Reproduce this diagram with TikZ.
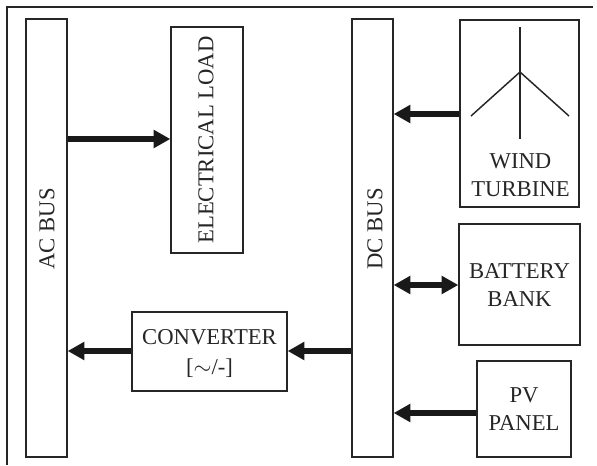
\documentclass[tikz,border=0pt]{standalone}
\usepackage{fontspec}
\setmainfont{Liberation Serif}
\usetikzlibrary{arrows.meta}
\tikzset{
 lab/.style={font=\fontsize{17pt}{21pt}\selectfont,text=black!85},
 box/.style={draw=black!85,line width=1pt,inner sep=0pt,align=center,lab},
 conn/.style={draw=black!90,line width=4.4pt,-{Triangle[length=12.5pt,width=13pt]}},
 bi/.style={draw=black!90,line width=4.4pt,{Triangle[length=12.5pt,width=13pt]}-{Triangle[length=12.5pt,width=13pt]}},
 tur/.style={draw=black!85,line width=1.1pt}
}
\begin{document}
\begin{tikzpicture}[x=0.75pt,y=-0.75pt]
\useasboundingbox (0,0) rectangle (597,465);
\fill[white] (0,0) rectangle (597,465);
\draw[draw=black!85,line width=1pt] (7,465) -- (7,7) -- (593,7);
\node[box,minimum width=30.75pt,minimum height=328.5pt] (ac) at (46.5,238) {};
\node[lab,rotate=90] (aclabel) at (47,229) {AC BUS};
\node[box,minimum width=30.75pt,minimum height=328.5pt] (dc) at (372.5,238) {};
\node[lab,rotate=90] (dclabel) at (375,229) {DC BUS};
\node[box,minimum width=54pt,minimum height=169.5pt] (load) at (207,140) {};
\node[lab,rotate=90] (loadlabel) at (206,140) {ELECTRICAL LOAD};
\node[box,minimum width=116.25pt,minimum height=59.25pt] (conv) at (209.5,351.5) {};
\node[lab,align=center] (convlabel) at (209.5,354) {CONVERTER\\[1.5pt]{[}$\sim$/-{]}};
\node[box,minimum width=89.25pt,minimum height=140.25pt] (wind) at (519.5,113.5) {};
\node[lab,align=center] (windlabel) at (520.5,175) {WIND\\TURBINE};
\node[box,minimum width=90.75pt,minimum height=90.75pt] (batt) at (519.5,284.5) {};
\node[lab,align=center] (battlabel) at (519.5,285) {BATTERY\\BANK};
\node[box,minimum width=70.5pt,minimum height=72pt] (pv) at (524,409) {};
\node[lab,align=center] (pvlabel) at (524,409) {PV\\PANEL};
\coordinate (hub) at (520,72);
\coordinate (bt) at (520,27);
\coordinate (bb) at (520,139);
\coordinate (bl) at (471,116);
\coordinate (br) at (569,116);
\draw[tur] (bt) -- (bb);
\draw[tur] (hub) -- (bl);
\draw[tur] (hub) -- (br);
\draw[conn] (ac.east |- 0,139) -- (load.west |- 0,139);
\draw[conn] (wind.west |- 0,114) -- (dc.east |- 0,114);
\draw[bi] (dc.east |- 0,285) -- (batt.west |- 0,285);
\draw[conn] (pv.west |- 0,413) -- (dc.east |- 0,413);
\draw[conn] (dc.west |- 0,351) -- (conv.east |- 0,351);
\draw[conn] (conv.west |- 0,351) -- (ac.east |- 0,351);
\end{tikzpicture}
\end{document}
